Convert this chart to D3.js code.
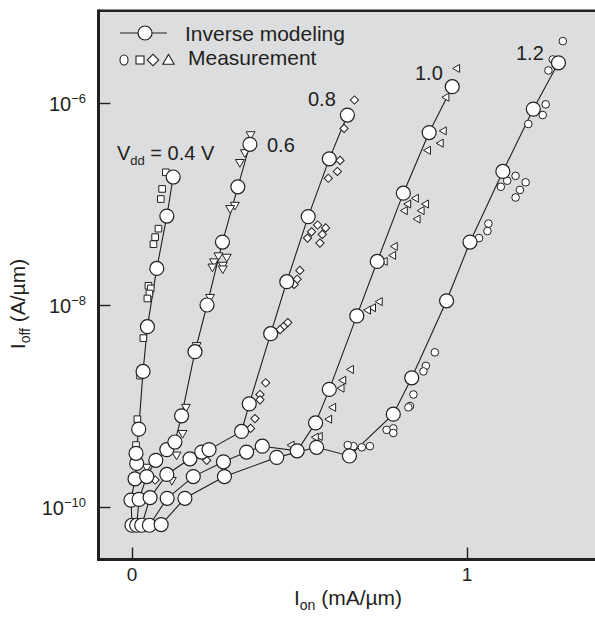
<!DOCTYPE html>
<html>
<head>
<meta charset="utf-8">
<script src="https://cdn.jsdelivr.net/npm/d3@7"></script>
<style>
  body { margin: 0; background: #fff; }
  svg { display: block; font-family: "Liberation Sans", Arial, sans-serif; }
</style>
</head>
<body>
<div class="container"></div>
<script>
const w = 595;
const h = 619;

// model (inverse modeling) curves, Ion in mA/um, Ioff in A/um
const model04Ion = [0.000, -0.003, 0.009, 0.014, 0.012, 0.020, 0.033, 0.046, 0.074, 0.104, 0.123];
const model04Ioff = [6.6e-11, 1.17e-10, 1.9e-10, 2.7e-10, 3.4e-10, 5.9e-10, 2.2e-9, 6.1e-9, 2.3e-8, 7.6e-8, 1.85e-7];
const model06Ion = [0.014, 0.021, 0.044, 0.071, 0.104, 0.128, 0.148, 0.188, 0.224, 0.270, 0.316, 0.352];
const model06Ioff = [6.6e-11, 1.19e-10, 2.0e-10, 2.9e-10, 3.7e-10, 4.4e-10, 8.0e-10, 3.45e-9, 1.0e-8, 4.2e-8, 1.48e-7, 3.9e-7];
const model08Ion = [0.029, 0.054, 0.104, 0.173, 0.208, 0.230, 0.327, 0.350, 0.414, 0.462, 0.526, 0.589, 0.643];
const model08Ioff = [6.6e-11, 1.24e-10, 2.1e-10, 3.0e-10, 3.5e-10, 3.7e-10, 5.6e-10, 1.05e-9, 5.2e-9, 1.7e-8, 7.5e-8, 2.8e-7, 7.6e-7];
const model10Ion = [0.052, 0.105, 0.183, 0.273, 0.342, 0.389, 0.493, 0.548, 0.589, 0.671, 0.732, 0.810, 0.887, 0.956];
const model10Ioff = [6.6e-11, 1.22e-10, 2.0e-10, 2.8e-10, 3.5e-10, 4.0e-10, 3.6e-10, 6.8e-10, 1.46e-9, 7.8e-9, 2.7e-8, 1.28e-7, 5.1e-7, 1.45e-6];
const model12Ion = [0.087, 0.158, 0.276, 0.432, 0.551, 0.649, 0.780, 0.835, 0.939, 1.009, 1.107, 1.198, 1.273];
const model12Ioff = [6.7e-11, 1.22e-10, 2.0e-10, 3.1e-10, 3.9e-10, 3.2e-10, 8.3e-10, 1.9e-9, 1.1e-8, 4.2e-8, 2.1e-7, 8.7e-7, 2.5e-6];

// measurements
const meas04Ion = [0.101, 0.090, 0.086, 0.079, 0.069, 0.064, 0.049, 0.056, 0.052, 0.046, 0.034, 0.024, 0.016, 0.012, 0.004];
const meas04Ioff = [2.06e-7, 1.41e-7, 1.12e-7, 5.7e-8, 4.7e-8, 4.0e-8, 1.55e-8, 1.46e-8, 1.3e-8, 1.16e-8, 4.7e-9, 2.0e-9, 7.4e-10, 4.1e-10, 1.8e-10];
const meas06Ion = [0.354, 0.337, 0.322, 0.307, 0.293, 0.258, 0.283, 0.245, 0.271, 0.240, 0.271, 0.233, 0.193, 0.161, 0.151, 0.133, 0.119, 0.044];
const meas06Ioff = [4.9e-7, 3.25e-7, 2.6e-7, 9.8e-8, 9.1e-8, 3.1e-8, 3.0e-8, 2.7e-8, 2.5e-8, 2.4e-8, 2.3e-8, 1.2e-8, 4.0e-9, 9.8e-10, 5.4e-10, 3.3e-10, 1.85e-10, 2.5e-10];
const meas08Ion = [0.664, 0.633, 0.621, 0.613, 0.586, 0.554, 0.578, 0.536, 0.568, 0.524, 0.561, 0.501, 0.493, 0.484, 0.465, 0.452, 0.442, 0.399, 0.382, 0.382, 0.367, 0.354, 0.069, 0.223];
const meas08Ioff = [1.07e-6, 5.6e-7, 2.7e-7, 2.1e-7, 1.8e-7, 6.2e-8, 5.8e-8, 5.3e-8, 5.0e-8, 4.6e-8, 4.1e-8, 2.2e-8, 1.8e-8, 1.6e-8, 6.7e-9, 6.1e-9, 5.7e-9, 1.7e-9, 1.3e-9, 1.15e-9, 7.5e-10, 6.0e-10, 1.85e-10, 2.9e-10];
const meas10Ion = [0.971, 0.939, 0.931, 0.922, 0.884, 0.848, 0.825, 0.878, 0.815, 0.865, 0.853, 0.785, 0.780, 0.755, 0.740, 0.720, 0.705, 0.654, 0.631, 0.626, 0.601, 0.589, 0.561, 0.549, 0.477];
const meas10Ioff = [2.2e-6, 1.14e-6, 5.3e-7, 4.0e-7, 3.4e-7, 1.14e-7, 1.0e-7, 1.0e-7, 8.6e-8, 8.6e-8, 7.1e-8, 3.8e-8, 3.1e-8, 2.7e-8, 1.08e-8, 9.4e-9, 8.9e-9, 2.3e-9, 1.8e-9, 1.5e-9, 9.7e-10, 7.4e-10, 5.0e-10, 4.9e-10, 4.1e-10];
const meas12Ion = [1.286, 1.256, 1.243, 1.235, 1.226, 1.183, 1.145, 1.175, 1.158, 1.145, 1.120, 1.101, 1.064, 1.061, 1.036, 0.904, 0.877, 0.870, 0.840, 0.830, 0.825, 0.780, 0.760, 0.780, 0.710, 0.686, 0.661, 0.644];
const meas12Ioff = [4.1e-6, 2.7e-6, 2.1e-6, 9.7e-7, 7.6e-7, 6.2e-7, 1.9e-7, 1.64e-7, 1.38e-7, 1.16e-7, 1.7e-7, 1.48e-7, 6.4e-8, 5.4e-8, 4.6e-8, 3.4e-9, 2.5e-9, 2.2e-9, 1.3e-9, 1.0e-9, 9.7e-10, 6.0e-10, 5.8e-10, 5.4e-10, 4.0e-10, 3.9e-10, 4.0e-10, 4.1e-10];

const xTicks = [0, 1];
const xTickLabels = ['0', '1'];
const yTicks = [1e-10, 1e-8, 1e-6];
const yTickExp = ['\u221210', '\u22128', '\u22126'];

const ink = '#231f20';
const bg = '#dcdddf';

const svg = d3.select('.container')
              .append('svg')
              .attr('width', w)
              .attr('height', h);

// scales: pixel anchors
const xScale = d3.scaleLinear().domain([0, 1]).range([132, 467]);
const yScale = d3.scaleLog().domain([1e-10, 1e-6]).range([507, 103]);

const box = {left: 98.5, top: 10.7, right: 600, bottom: 559.5};

// plot background + frame
svg.append('rect')
   .attr('x', box.left)
   .attr('y', box.top)
   .attr('width', box.right - box.left)
   .attr('height', box.bottom - box.top)
   .style('fill', bg);

// ticks (inward)
svg.append('g')
   .attr('transform', `translate(0, ${box.bottom})`)
   .call(d3.axisTop(xScale).tickValues(xTicks).tickSize(12).tickFormat(''))
   .call(g => g.select('.domain').remove())
   .selectAll('line').attr('stroke', ink).attr('stroke-width', 1.4);

svg.append('g')
   .attr('transform', `translate(${box.left}, 0)`)
   .call(d3.axisRight(yScale).tickValues(yTicks).tickSize(12).tickFormat(''))
   .call(g => g.select('.domain').remove())
   .selectAll('line').attr('stroke', ink).attr('stroke-width', 1.4);

svg.append('line').attr('x1', box.left).attr('x2', box.left)
   .attr('y1', box.top - 1.2).attr('y2', box.bottom + 1.5)
   .style('stroke', ink).style('stroke-width', 3);
svg.append('line').attr('x1', box.left).attr('x2', box.right)
   .attr('y1', box.top).attr('y2', box.top)
   .style('stroke', ink).style('stroke-width', 2.4);
svg.append('line').attr('x1', box.left).attr('x2', box.right)
   .attr('y1', box.bottom).attr('y2', box.bottom)
   .style('stroke', ink).style('stroke-width', 3);

// tick labels
svg.selectAll('.xlab')
   .data(xTicks)
   .enter()
   .append('text')
   .attr('x', d => xScale(d))
   .attr('y', 581)
   .attr('text-anchor', 'middle')
   .style('font-size', '19px')
   .style('fill', ink)
   .text((d, i) => xTickLabels[i]);

const ylab = svg.selectAll('.ylab')
   .data(yTicks)
   .enter()
   .append('text')
   .attr('x', 86)
   .attr('y', d => yScale(d) + 7.5)
   .attr('text-anchor', 'end')
   .style('font-size', '20px')
   .style('fill', ink);
ylab.append('tspan').text('10');
ylab.append('tspan').attr('dy', -8).style('font-size', '13px').text((d, i) => yTickExp[i]);

// axis titles
const xt = svg.append('text')
   .attr('x', 348).attr('y', 605)
   .attr('text-anchor', 'middle')
   .style('font-size', '21px').style('fill', ink);
xt.append('tspan').text('I');
xt.append('tspan').attr('dy', 5).style('font-size', '14px').text('on');
xt.append('tspan').attr('dy', -5).text(' (mA/\u00b5m)');

const yt = svg.append('text')
   .attr('transform', 'translate(25, 304) rotate(-90)')
   .attr('text-anchor', 'middle')
   .style('font-size', '21px').style('fill', ink);
yt.append('tspan').text('I');
yt.append('tspan').attr('dy', 5).style('font-size', '14px').text('off');
yt.append('tspan').attr('dy', -5).text(' (A/\u00b5m)');

// measurement symbols
const sq = d3.symbol().type(d3.symbolSquare).size(44)();
const dia = d3.symbol().type(d3.symbolSquare).size(34)();
const tri = d3.symbol().type(d3.symbolTriangle).size(34)();
const triL = d3.symbol().type(d3.symbolTriangle).size(28)();

const meas = [
  {ion: meas04Ion, ioff: meas04Ioff, path: sq, rot: 0},
  {ion: meas06Ion, ioff: meas06Ioff, path: tri, rot: 180},
  {ion: meas08Ion, ioff: meas08Ioff, path: dia, rot: 45},
  {ion: meas10Ion, ioff: meas10Ioff, path: triL, rot: -90},
];

const models = [
  [model04Ion, model04Ioff],
  [model06Ion, model06Ioff],
  [model08Ion, model08Ioff],
  [model10Ion, model10Ioff],
  [model12Ion, model12Ioff],
];

const line = d3.line()
  .x(d => xScale(d[0]))
  .y(d => yScale(d[1]));

models.forEach(m => {
  svg.append('path')
     .attr('d', line(d3.zip(m[0], m[1])))
     .style('fill', 'none')
     .style('stroke', ink)
     .style('stroke-width', 1.1);
});

meas.forEach(s => {
  svg.append('g').selectAll('path')
     .data(d3.zip(s.ion, s.ioff))
     .enter()
     .append('path')
     .attr('d', s.path)
     .attr('transform', d => `translate(${xScale(d[0])}, ${yScale(d[1])}) rotate(${s.rot})`)
     .style('fill', '#fff')
     .style('stroke', ink)
     .style('stroke-width', 1);
});

svg.append('g').selectAll('circle')
   .data(d3.zip(meas12Ion, meas12Ioff))
   .enter()
   .append('circle')
   .attr('cx', d => xScale(d[0]))
   .attr('cy', d => yScale(d[1]))
   .attr('r', 3.8)
   .style('fill', '#fff')
   .style('stroke', ink)
   .style('stroke-width', 1);

models.forEach(m => {
  svg.append('g').selectAll('circle')
     .data(d3.zip(m[0], m[1]))
     .enter()
     .append('circle')
     .attr('cx', d => xScale(d[0]))
     .attr('cy', d => yScale(d[1]))
     .attr('r', 7)
     .style('fill', '#fff')
     .style('stroke', ink)
     .style('stroke-width', 1.2);
});

// curve labels
const vlab = svg.append('text')
   .attr('x', 117).attr('y', 160)
   .style('font-size', '20px').style('fill', ink);
vlab.append('tspan').text('V');
vlab.append('tspan').attr('dy', 5).style('font-size', '13px').text('dd');
vlab.append('tspan').attr('dy', -5).text(' = 0.4 V');

const curveLabels = [
  {t: '0.6', x: 267, y: 152},
  {t: '0.8', x: 308, y: 106},
  {t: '1.0', x: 415, y: 80},
  {t: '1.2', x: 516, y: 60},
];
svg.selectAll('.clab')
   .data(curveLabels)
   .enter()
   .append('text')
   .attr('x', d => d.x).attr('y', d => d.y)
   .style('font-size', '20px').style('fill', ink)
   .text(d => d.t);

// legend
const legend = svg.append('g');
legend.append('line')
      .attr('x1', 120).attr('x2', 167).attr('y1', 33).attr('y2', 33)
      .style('stroke', ink).style('stroke-width', 1.1);
legend.append('circle')
      .attr('cx', 145).attr('cy', 33).attr('r', 7)
      .style('fill', '#fff').style('stroke', ink).style('stroke-width', 1.2);
legend.append('text')
      .attr('x', 185).attr('y', 41)
      .style('font-size', '21px').style('fill', ink)
      .text('Inverse modeling');

legend.append('ellipse')
      .attr('cx', 124).attr('cy', 60).attr('rx', 4).attr('ry', 5)
      .style('fill', '#fff').style('stroke', ink).style('stroke-width', 1.1);
legend.append('rect')
      .attr('x', 136).attr('y', 56).attr('width', 8).attr('height', 8)
      .style('fill', '#fff').style('stroke', ink).style('stroke-width', 1.1);
legend.append('path')
      .attr('d', d3.symbol().type(d3.symbolSquare).size(64)())
      .attr('transform', 'translate(153, 60) rotate(45)')
      .style('fill', '#fff').style('stroke', ink).style('stroke-width', 1.1);
legend.append('path')
      .attr('d', d3.symbol().type(d3.symbolTriangle).size(56)())
      .attr('transform', 'translate(168.5, 61)')
      .style('fill', '#fff').style('stroke', ink).style('stroke-width', 1.1);
legend.append('text')
      .attr('x', 188).attr('y', 65)
      .style('font-size', '21px').style('fill', ink)
      .text('Measurement');
</script>
</body>
</html>
